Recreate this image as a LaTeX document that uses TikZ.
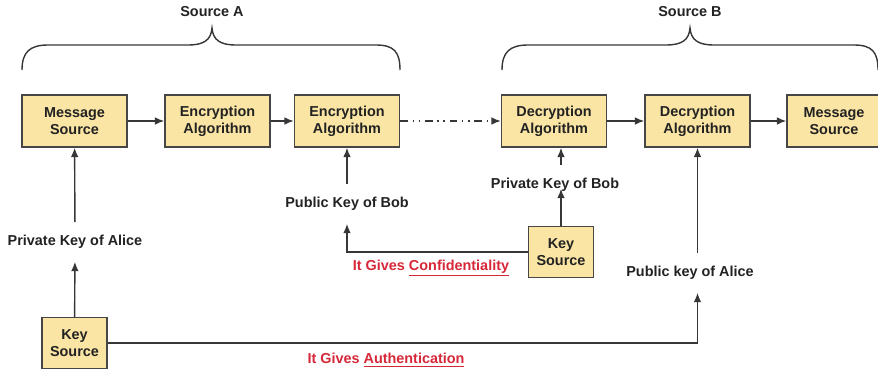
\documentclass[tikz,border=0pt]{standalone}
\usepackage{fontspec}
\setmainfont{Liberation Sans}
\usetikzlibrary{arrows.meta}

\definecolor{boxfill}{RGB}{250,229,164}
\definecolor{boxline}{RGB}{70,70,70}
\definecolor{lineclr}{RGB}{55,55,55}
\definecolor{txtclr}{RGB}{34,34,34}
\definecolor{redtxt}{RGB}{214,40,57}

\tikzset{
  box/.style={draw=boxline, fill=boxfill, line width=1.2pt, align=center,
    minimum width=3.15cm, minimum height=1.56cm, inner sep=0pt,
    font=\fontsize{12.3}{14.3}\selectfont\bfseries, text=txtclr},
  keybox/.style={box, minimum width=1.95cm, minimum height=1.53cm},
  lbl/.style={inner xsep=2pt, inner ysep=11pt,
    font=\fontsize{12.3}{14.3}\selectfont\bfseries, text=txtclr},
  redlbl/.style={inner sep=0pt,
    font=\fontsize{12.3}{14.3}\selectfont\bfseries, text=redtxt},
  arr/.style={draw=lineclr, line width=1.2pt, ->, >={Latex[length=8pt,width=6.5pt]}},
  brc/.style={draw=lineclr, line width=1.2pt},
  dashdotdot/.style={dash pattern=on 6.5pt off 4pt on 1.3pt off 4pt on 1.3pt off 4pt}
}

\begin{document}
\begin{tikzpicture}[x=0.03cm, y=-0.03cm]
		
		\clip (0,0) rectangle (878,372);
		
		% braces on top
		\node[lbl, inner sep=0pt] (srca) at (212,12) {Source A};
		\node[lbl, inner sep=0pt] (srcb) at (690,12) {Source B};
		
		\draw[brc] (22,70) .. controls (22,52) and (30,45) .. (48,45) -- (188,45)
			.. controls (204,45) and (211,40) .. (212,28)
			.. controls (213,40) and (220,45) .. (236,45) -- (376,45)
			.. controls (394,45) and (400,52) .. (400,70);
		\draw[brc] (502,70) .. controls (502,52) and (510,45) .. (528,45) -- (666,45)
			.. controls (682,45) and (689,40) .. (690,28)
			.. controls (691,40) and (698,45) .. (714,45) -- (854,45)
			.. controls (872,45) and (878,52) .. (878,70);
		
		
		% main row
		\node[box] (msa) at (74.5,121) {Message\\Source};
		\node[box] (enca) at (217.5,121) {Encryption\\Algorithm};
		\node[box] (encb) at (347,121) {Encryption\\Algorithm};
		\node[box] (deca) at (554,121) {Decryption\\Algorithm};
		\node[box] (decb) at (697.5,121) {Decryption\\Algorithm};
		\node[box, minimum width=2.82cm] (msb) at (834,121) {Message\\Source};
		
		\draw[arr] (msa) -- (enca);
		\draw[arr] (enca) -- (encb);
		\draw[arr, dashdotdot] (encb) -- (deca);
		\draw[arr] (deca) -- (decb);
		\draw[arr] (decb) -- (msb);
		
		
		% key sources
		\node[keybox] (keya) at (74.5,343) {Key\\Source};
		\node[keybox] (keyb) at (561,252) {Key\\Source};
		
		
		% key labels
		\node[lbl] (prva) at (75,242) {Private Key of Alice};
		\node[lbl] (pubb) at (347,204) {Public Key of Bob};
		\node[lbl] (prvb) at (555,185) {Private Key of Bob};
		\node[lbl] (puba) at (690,273) {Public key of Alice};
		
		
		% Alice side
		\draw[arr] (keya) -- (prva);
		\draw[arr] (prva) -- (msa);
		\draw[arr] (keya.east) -| (puba.south -| decb.south);
		\draw[arr] (puba.north -| decb.south) -- (decb.south);
		
		
		% Bob side
		\draw[arr] (keyb.west) -| (pubb.south);
		\draw[arr] (pubb) -- (encb);
		\draw[arr] (keyb.north) -- (keyb |- prvb.base);
		\draw[arr] (prvb.north -| keyb) -- (deca.south -| keyb);
		
		
		\node[redlbl] (conf) at (431,268) {It Gives \underline{Confidentiality}};
		\node[redlbl] (auth) at (386,360) {It Gives \underline{Authentication}};
		
		
	\end{tikzpicture}
\end{document}
